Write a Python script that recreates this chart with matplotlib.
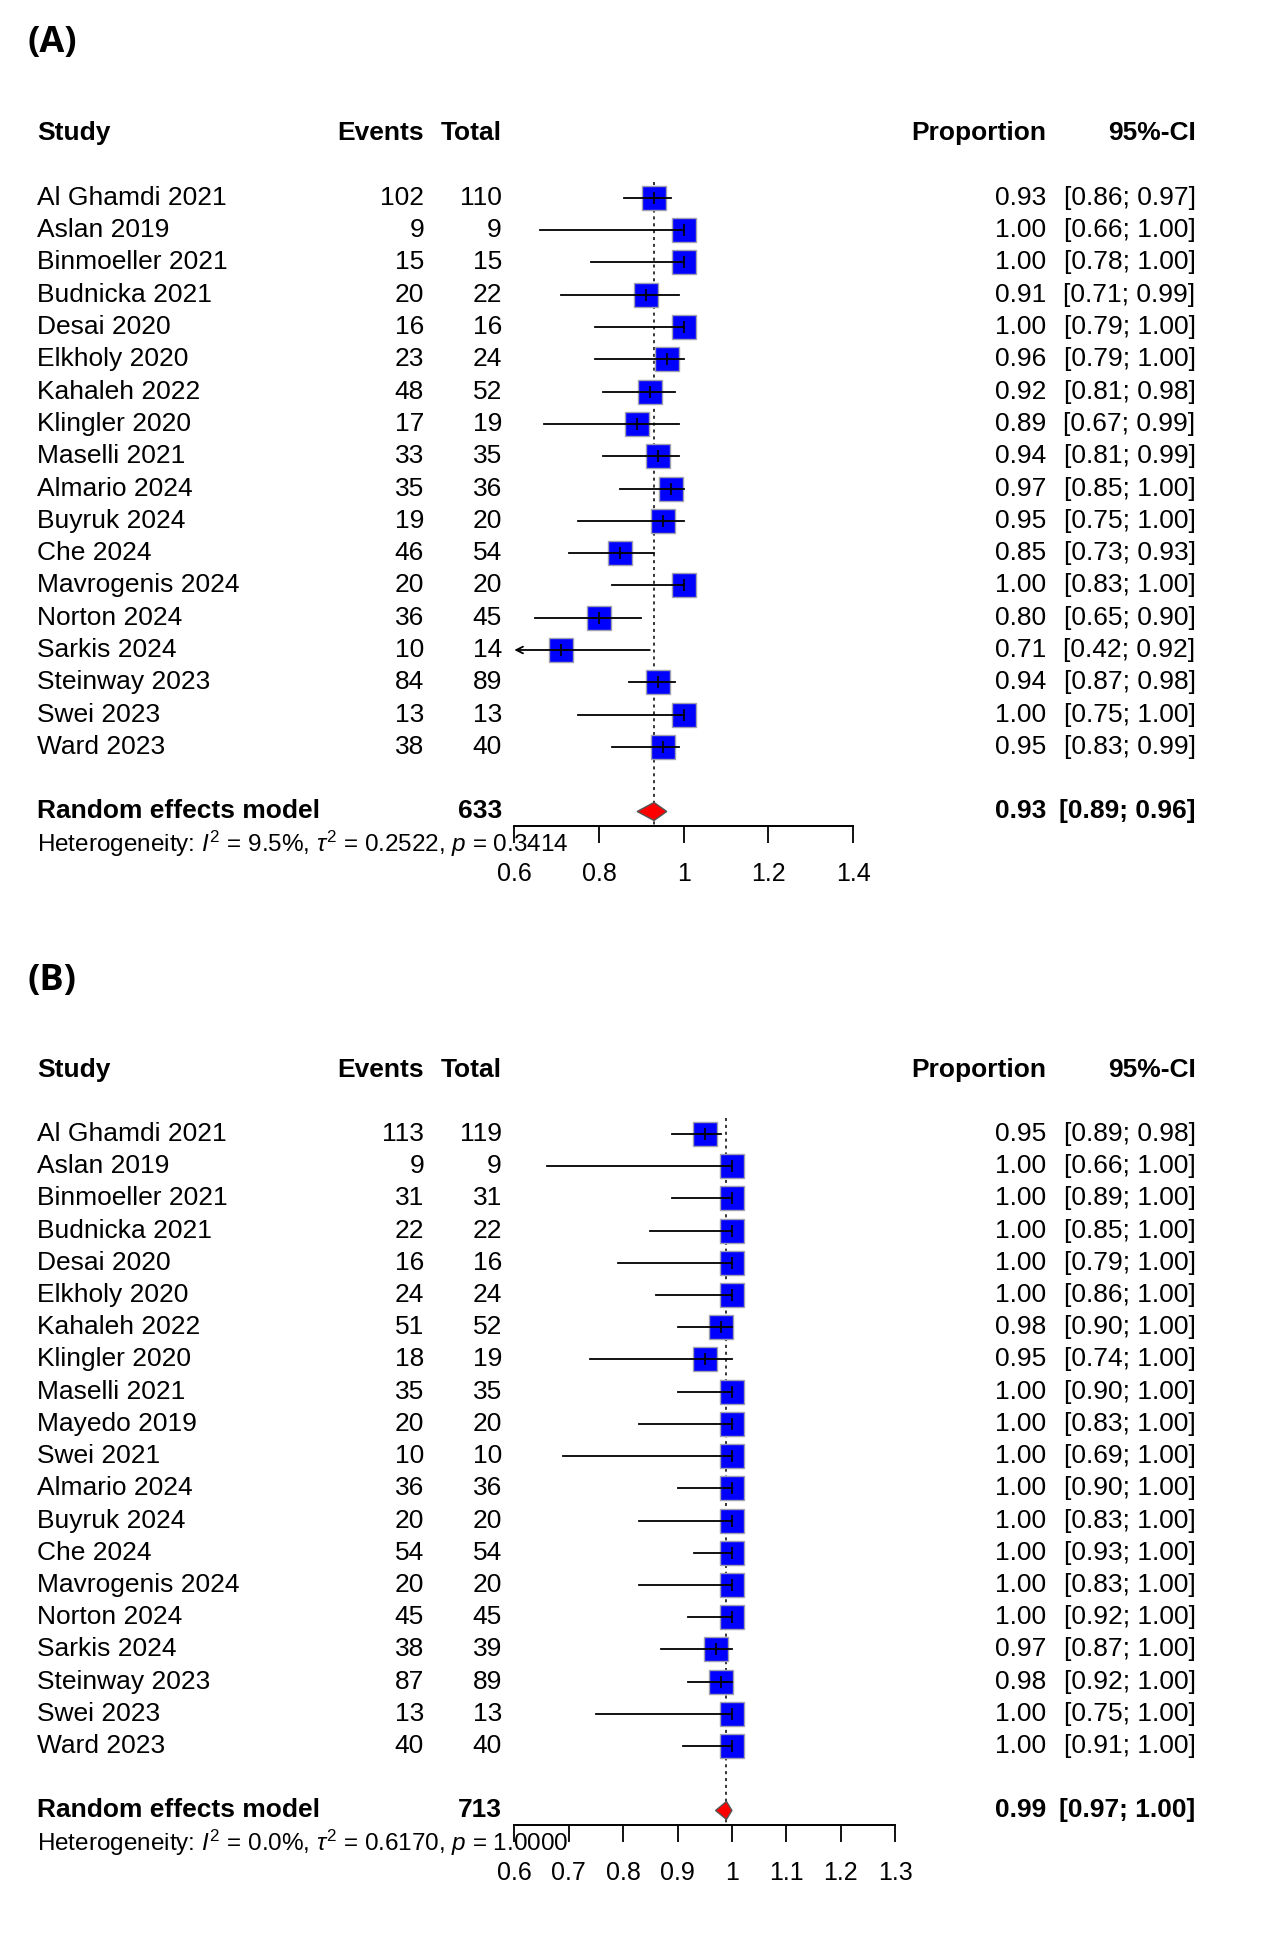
import numpy as np
import matplotlib
matplotlib.use("Agg")
import matplotlib.pyplot as plt
import matplotlib.transforms as mtransforms
from matplotlib.ticker import FormatStrFormatter

plt.rcParams['font.family'] = ['Liberation Sans', 'DejaVu Sans']
plt.rcParams['mathtext.fontset'] = 'custom'
plt.rcParams['mathtext.rm'] = 'Liberation Sans'
plt.rcParams['mathtext.it'] = 'Liberation Sans:italic'

# Panel A data
studies_a = ["Al Ghamdi 2021", "Aslan 2019", "Binmoeller 2021", "Budnicka 2021", "Desai 2020",
             "Elkholy 2020", "Kahaleh 2022", "Klingler 2020", "Maselli 2021", "Almario 2024",
             "Buyruk 2024", "Che 2024", "Mavrogenis 2024", "Norton 2024", "Sarkis 2024",
             "Steinway 2023", "Swei 2023", "Ward 2023"]
events_a = [102, 9, 15, 20, 16, 23, 48, 17, 33, 35, 19, 46, 20, 36, 10, 84, 13, 38]
total_a = [110, 9, 15, 22, 16, 24, 52, 19, 35, 36, 20, 54, 20, 45, 14, 89, 13, 40]
prop_a = [0.93, 1.00, 1.00, 0.91, 1.00, 0.96, 0.92, 0.89, 0.94, 0.97, 0.95, 0.85, 1.00, 0.80, 0.71, 0.94, 1.00, 0.95]
lo_a = [0.86, 0.66, 0.78, 0.71, 0.79, 0.79, 0.81, 0.67, 0.81, 0.85, 0.75, 0.73, 0.83, 0.65, 0.42, 0.87, 0.75, 0.83]
hi_a = [0.97, 1.00, 1.00, 0.99, 1.00, 1.00, 0.98, 0.99, 0.99, 1.00, 1.00, 0.93, 1.00, 0.90, 0.92, 0.98, 1.00, 0.99]
re_a = (633, 0.93, 0.89, 0.96)
het_a = r"Heterogeneity: $\mathit{I}^2$ = 9.5%, $\tau^2$ = 0.2522, $\mathit{p}$ = 0.3414"
ticks_a = [0.6, 0.8, 1.0, 1.2, 1.4]

# Panel B data
studies_b = ["Al Ghamdi 2021", "Aslan 2019", "Binmoeller 2021", "Budnicka 2021", "Desai 2020",
             "Elkholy 2020", "Kahaleh 2022", "Klingler 2020", "Maselli 2021", "Mayedo 2019",
             "Swei 2021", "Almario 2024", "Buyruk 2024", "Che 2024", "Mavrogenis 2024",
             "Norton 2024", "Sarkis 2024", "Steinway 2023", "Swei 2023", "Ward 2023"]
events_b = [113, 9, 31, 22, 16, 24, 51, 18, 35, 20, 10, 36, 20, 54, 20, 45, 38, 87, 13, 40]
total_b = [119, 9, 31, 22, 16, 24, 52, 19, 35, 20, 10, 36, 20, 54, 20, 45, 39, 89, 13, 40]
prop_b = [0.95, 1.00, 1.00, 1.00, 1.00, 1.00, 0.98, 0.95, 1.00, 1.00, 1.00, 1.00, 1.00, 1.00, 1.00, 1.00, 0.97, 0.98, 1.00, 1.00]
lo_b = [0.89, 0.66, 0.89, 0.85, 0.79, 0.86, 0.90, 0.74, 0.90, 0.83, 0.69, 0.90, 0.83, 0.93, 0.83, 0.92, 0.87, 0.92, 0.75, 0.91]
hi_b = [0.98, 1.00, 1.00, 1.00, 1.00, 1.00, 1.00, 1.00, 1.00, 1.00, 1.00, 1.00, 1.00, 1.00, 1.00, 1.00, 1.00, 1.00, 1.00, 1.00]
re_b = (713, 0.99, 0.97, 1.00)
het_b = r"Heterogeneity: $\mathit{I}^2$ = 0.0%, $\tau^2$ = 0.6170, $\mathit{p}$ = 1.0000"
ticks_b = [0.6, 0.7, 0.8, 0.9, 1.0, 1.1, 1.2, 1.3]

# layout reference (page coords 1024 x 1564)
W = 1024.0
H = 1564.0
FS = 19

fig = plt.figure(figsize=(12.66, 19.34), dpi=100)


def forest(label, label_y, studies, events, total, prop, lo, hi, re, het, ticks,
           x_right, y_first, y_last, y_axis):
    n = len(studies)
    gap = (y_last - y_first) / (n - 1)
    y_top = y_first - 2.6 * gap
    xl, xr = ticks[0], ticks[-1]
    ax = fig.add_axes([416 / W, 1 - y_axis / H, (x_right - 416) / W, (y_axis - y_top) / H])
    ax.set_xlim(xl, xr)
    ax.set_ylim((y_axis - y_first) / gap, (y_top - y_first) / gap)
    y_bot = (y_axis - y_first) / gap
    for s in ['top', 'right', 'left']:
        ax.spines[s].set_visible(False)
    ax.spines['bottom'].set_linewidth(1.4)
    ax.set_yticks([])
    ax.set_xticks(ticks)
    ax.xaxis.set_major_formatter(FormatStrFormatter('%g'))
    ax.tick_params(axis='x', direction='out', length=12, width=1.3, pad=14, labelsize=18)
    ax.patch.set_visible(False)

    tr = mtransforms.blended_transform_factory(fig.transFigure, ax.transData)

    # header
    hdr = -2
    ax.text(30 / W, hdr, "Study", transform=tr, fontsize=FS, fontweight='bold', va='center', ha='left')
    ax.text(343 / W, hdr, "Events", transform=tr, fontsize=FS, fontweight='bold', va='center', ha='right')
    ax.text(406 / W, hdr, "Total", transform=tr, fontsize=FS, fontweight='bold', va='center', ha='right')
    ax.text(846 / W, hdr, "Proportion", transform=tr, fontsize=FS, fontweight='bold', va='center', ha='right')
    ax.text(967 / W, hdr, "95%-CI", transform=tr, fontsize=FS, fontweight='bold', va='center', ha='right')

    # reference line at pooled estimate
    ax.plot([re[1], re[1]], [-0.5, y_bot], ls=(0, (2, 2.5)), color='black', lw=1.1, zorder=1)

    for i in range(n):
        ax.text(30 / W, i, studies[i], transform=tr, fontsize=FS, va='center', ha='left')
        ax.text(343 / W, i, str(events[i]), transform=tr, fontsize=FS, va='center', ha='right')
        ax.text(406 / W, i, str(total[i]), transform=tr, fontsize=FS, va='center', ha='right')
        ax.text(846 / W, i, "%.2f" % prop[i], transform=tr, fontsize=FS, va='center', ha='right')
        ax.text(967 / W, i, "[%.2f; %.2f]" % (lo[i], hi[i]), transform=tr, fontsize=FS,
                va='center', ha='right')

        ax.plot(prop[i], i, marker='s', ms=17, mfc='#0000ff', mec='#a0a0b0', mew=1.0,
                ls='none', zorder=3)
        if lo[i] < xl:
            ax.annotate("", xy=(xl, i), xytext=(hi[i], i),
                        arrowprops=dict(arrowstyle='->', color='black', lw=1.3,
                                        shrinkA=0, shrinkB=0, mutation_scale=12),
                        zorder=4)
        else:
            ax.plot([lo[i], hi[i]], [i, i], color='black', lw=1.3, zorder=4)
        ax.plot(prop[i], i, marker='|', ms=9, color='black', mew=1.2, zorder=5)

    # pooled row
    yr = n + 1
    ax.text(30 / W, yr, "Random effects model", transform=tr, fontsize=FS, fontweight='bold',
            va='center', ha='left')
    ax.text(406 / W, yr, str(re[0]), transform=tr, fontsize=FS, fontweight='bold', va='center', ha='right')
    ax.text(846 / W, yr, "%.2f" % re[1], transform=tr, fontsize=FS, fontweight='bold', va='center', ha='right')
    ax.text(967 / W, yr, "[%.2f; %.2f]" % (re[2], re[3]), transform=tr, fontsize=FS,
            fontweight='bold', va='center', ha='right')
    dh = 0.28
    ax.fill([re[2], re[1], re[3], re[1]], [yr, yr - dh, yr, yr + dh], facecolor='#ff0000',
            edgecolor='#555555', lw=1.0, zorder=6, clip_on=False)

    ax.text(30 / W, n + 2, het, transform=tr, fontsize=17.5, va='center', ha='left', zorder=7)

    fig.text(22 / W, 1 - label_y / H, label, fontsize=26, fontweight='bold',
             family=['Open Sans', 'DejaVu Sans'], va='center', ha='left')
    return ax


forest("(A)", 35, studies_a, events_a, total_a, prop_a, lo_a, hi_a, re_a, het_a, ticks_a,
       690, 160, 604, 668)
forest("(B)", 793, studies_b, events_b, total_b, prop_b, lo_b, hi_b, re_b, het_b, ticks_b,
       724, 917, 1412, 1476)

fig.savefig("out.png", dpi=100, facecolor='white')
